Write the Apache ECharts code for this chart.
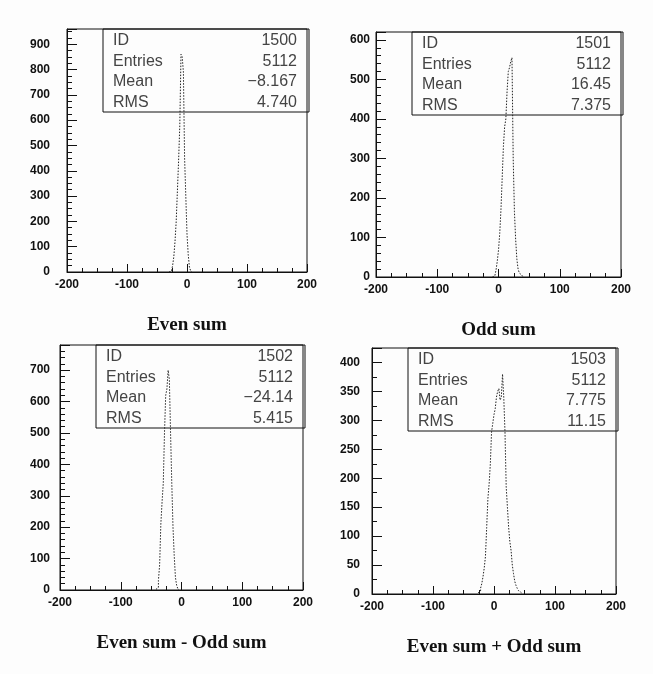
<!DOCTYPE html>
<html>
<head>
<meta charset="utf-8">
<script src="https://cdn.jsdelivr.net/npm/echarts@6/dist/echarts.min.js"></script>
<style>
html,body{margin:0;padding:0;background:#fff}
#main{width:653px;height:674px}
</style>
</head>
<body>
<div id="main"></div>
<script>
// histogram bins, 2 units wide, each list starts at its own lower edge
const binWidth = 2
const evenStart = -30
const evenCounts = [0, 3, 10, 25, 60, 120, 200, 320, 440, 580, 860, 850, 790, 450, 300, 150, 70, 20, 5]
const oddStart = -10
const oddCounts = [0, 3, 8, 18, 40, 68, 110, 170, 250, 330, 380, 400, 470, 520, 530, 545, 555, 300, 165, 95, 45, 20, 10, 5, 2]
const diffStart = -42
const diffCounts = [2, 8, 30, 80, 210, 280, 340, 500, 620, 640, 700, 670, 500, 340, 200, 110, 40, 15, 4]
const sumStart = -26
const sumCounts = [2, 5, 10, 18, 30, 45, 65, 115, 165, 190, 225, 280, 295, 310, 320, 340, 350, 355, 335, 340, 380, 340, 280, 185, 150, 115, 90, 75, 50, 35, 22, 15, 10, 6, 3, 1]

const titles = ['Even sum', 'Odd sum', 'Even sum - Odd sum', 'Even sum + Odd sum']
const statNames = ['ID', 'Entries', 'Mean', 'RMS']
const statIds = ['1500', '1501', '1502', '1503']
const statEntries = ['5112', '5112', '5112', '5112']
const statMeans = ['\u22128.167', '16.45', '\u221224.14', '7.775']
const statRms = ['4.740', '7.375', '5.415', '11.15']

const xMin = -200
const xMax = 200
const xStep = 100
const yMax = [960, 620, 780, 425]
const yStep = [100, 100, 100, 50]

const hists = [
    {start: evenStart, counts: evenCounts},
    {start: oddStart, counts: oddCounts},
    {start: diffStart, counts: diffCounts},
    {start: sumStart, counts: sumCounts}
]

// panel boxes in px
const boxes = [
    {left: 67, top: 29, width: 240, height: 243, labelGap: 17, ySplit: 4},
    {left: 376, top: 32, width: 245, height: 245, labelGap: 6, ySplit: 5},
    {left: 60, top: 345, width: 243, height: 245, labelGap: 10, ySplit: 5},
    {left: 372, top: 348, width: 244, height: 246, labelGap: 12, ySplit: 2}
]

let myChart = echarts.init(document.getElementById('main'))

let grids = []
let xAxes = []
let yAxes = []
let series = []
let graphics = []

boxes.forEach((b, i) => {
    grids.push({
        left: b.left, top: b.top, width: b.width, height: b.height,
        show: true, borderColor: '#111', borderWidth: 1, backgroundColor: 'transparent'
    })
    xAxes.push({
        type: 'value', gridIndex: i, min: xMin, max: xMax, interval: xStep,
        axisLine: {show: true, onZero: false, lineStyle: {color: '#111'}},
        axisTick: {show: true, inside: true, length: 8, lineStyle: {color: '#111'}},
        minorTick: {show: true, splitNumber: 4, length: 4, lineStyle: {color: '#111'}},
        splitLine: {show: false},
        axisLabel: {color: '#111', fontFamily: 'Liberation Sans', fontWeight: 'bold', fontSize: 12, margin: 7}
    })
    yAxes.push({
        type: 'value', gridIndex: i, min: 0, max: yMax[i], interval: yStep[i],
        axisLine: {show: true, onZero: false, lineStyle: {color: '#111'}},
        axisTick: {show: true, inside: true, length: 10, lineStyle: {color: '#111'}},
        minorTick: {show: true, splitNumber: b.ySplit, length: 5, lineStyle: {color: '#111'}},
        splitLine: {show: false},
        axisLabel: {
            color: '#111', fontFamily: 'Liberation Sans', fontWeight: 'bold', fontSize: 12,
            margin: b.labelGap, showMaxLabel: false
        }
    })
    let h = hists[i]
    let pts = h.counts.map((c, k) => [h.start + k * binWidth, c])
    pts.push([h.start + h.counts.length * binWidth, 0])
    series.push({
        type: 'line', xAxisIndex: i, yAxisIndex: i, step: 'end',
        data: pts, showSymbol: false, silent: true,
        lineStyle: {color: '#222', width: 1, type: [1.5, 1.5]}
    })

    // stats box
    let bl = b.left + 36
    let br = b.left + b.width + 2
    let bt = b.top
    let bh = 83
    graphics.push({
        type: 'rect', shape: {x: bl, y: bt, width: br - bl, height: bh},
        style: {fill: 'none', stroke: '#111', lineWidth: 1}
    })
    let vals = [statIds[i], statEntries[i], statMeans[i], statRms[i]]
    statNames.forEach((n, k) => {
        let y = bt + 12 + k * 20.5
        graphics.push({
            type: 'text', x: bl + 10, y: y,
            style: {text: n, font: '16px "Liberation Sans"', fill: '#444', verticalAlign: 'middle'}
        })
        graphics.push({
            type: 'text', x: br - 12, y: y,
            style: {text: vals[k], font: '16px "Liberation Sans"', fill: '#444', textAlign: 'right', verticalAlign: 'middle'}
        })
    })

    graphics.push({
        type: 'text', x: b.left + b.width / 2, y: b.top + b.height + 53,
        style: {text: titles[i], font: 'bold 19px "Liberation Serif"', fill: '#111', textAlign: 'center', verticalAlign: 'middle'}
    })
})

myChart.setOption({
    backgroundColor: '#fdfdfd',
    animation: false,
    grid: grids,
    xAxis: xAxes,
    yAxis: yAxes,
    series: series,
    graphic: graphics
})
</script>
</body>
</html>
